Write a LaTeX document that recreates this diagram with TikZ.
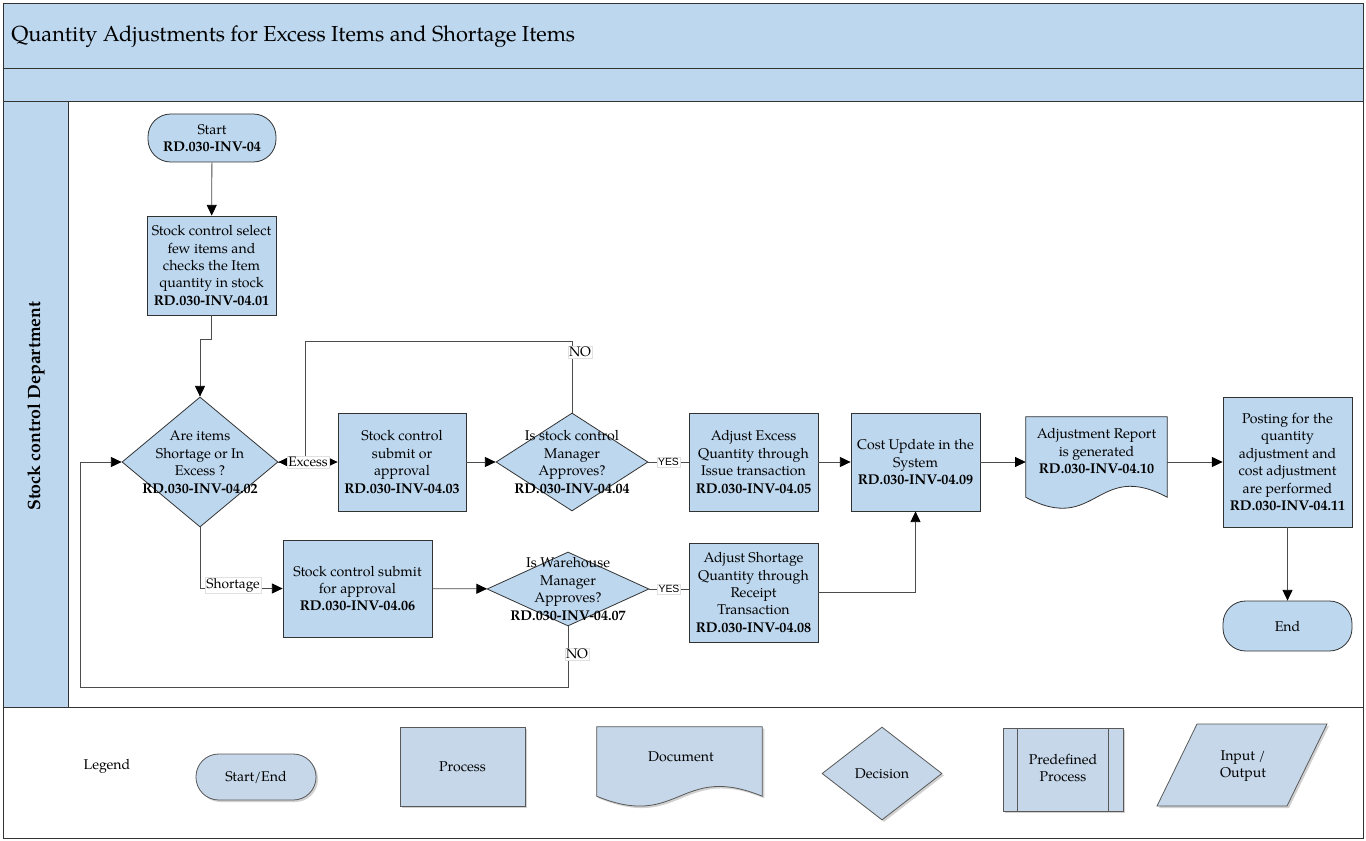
\documentclass[tikz,border=0pt]{standalone}
\usepackage{fontspec}
\setmainfont{TeX Gyre Pagella}
\newfontfamily\lblsans{Liberation Sans}
\usetikzlibrary{arrows.meta,shapes.geometric,shadows,calc}
\definecolor{hdr}{RGB}{189,215,238}
\definecolor{nodefill}{RGB}{189,215,238}
\definecolor{legfill}{RGB}{197,215,233}
\newcommand\nodefont{\fontsize{10.6}{13.1}\selectfont}
\begin{document}
\begin{tikzpicture}[x=0.75pt,y=-0.75pt,
  frame/.style={draw=black!80, line width=0.7pt},
  box/.style={draw=black!80, line width=0.6pt, fill=nodefill, inner sep=1pt, align=center, font=\nodefont},
  term/.style={box, rounded corners=17pt},
  dia/.style={draw=black!80, line width=0.6pt, fill=nodefill, diamond, inner sep=0pt},
  txt/.style={align=center, font=\nodefont, inner sep=0pt},
  ln/.style={draw=black!70, line width=0.6pt},
  arr/.style={ln, -{Triangle[length=8pt,width=7.5pt,black]}},
  lbl/.style={fill=white, draw=black!12, line width=0.3pt, inner sep=0.8pt, font=\fontsize{10.3}{11}\selectfont},
  ylbl/.style={lbl, font=\lblsans\fontsize{7.8}{9}\selectfont},
  leg/.style={draw=black!65, line width=0.6pt, fill=legfill, drop shadow={shadow xshift=1.5pt, shadow yshift=-1.5pt, fill=black!40, opacity=0.45}},
]
\useasboundingbox (0,0) rectangle (1366,841);
% ---- lanes / frames
\fill[white] (0,0) rectangle (1366,841);
\fill[hdr] (3,3) rectangle (1363,101);
\draw[frame] (3,68) -- (1363,68);
\fill[hdr] (3,101) rectangle (68,707);
\draw[frame] (3,101) rectangle (1363,707);
\draw[frame] (68,101) -- (68,707);
\draw[frame] (3,3) rectangle (1363,838);
\node[anchor=west, font=\fontsize{16.3}{18}\selectfont, inner sep=0pt] (title) at (11,37) {Quantity Adjustments for Excess Items and Shortage Items};
\node[rotate=90, font=\fontsize{13.3}{15}\selectfont\bfseries, inner sep=0pt] (lane) at (36,406) {Stock control Department};

% ---- nodes
\node[term, minimum width=96pt, minimum height=36pt] (start) at (212,138) {Start\\\textbf{RD.030-INV-04}};
\node[box, minimum width=96.75pt, minimum height=74.25pt] (box01) at (211.5,265.5) {Stock control select\\few items and\\checks the Item\\quantity in stock\\\textbf{RD.030-INV-04.01}};
\node[dia, minimum width=117pt, minimum height=97.5pt] (d02) at (200,462) {};
\node[txt] (d02t) at (d02) {Are items\\Shortage or In\\Excess ?\\\textbf{RD.030-INV-04.02}};
\node[box, minimum width=96pt, minimum height=73.5pt] (box03) at (402,462) {Stock control\\submit or\\approval\\\textbf{RD.030-INV-04.03}};
\node[dia, minimum width=114pt, minimum height=73.5pt] (d04) at (572,462) {};
\node[txt] (d04t) at (d04) {Is stock control\\Manager\\Approves?\\\textbf{RD.030-INV-04.04}};
\node[box, minimum width=96.75pt, minimum height=73.5pt] (box05) at (753.5,462) {Adjust Excess\\Quantity through\\Issue transaction\\\textbf{RD.030-INV-04.05}};
\node[box, minimum width=96.75pt, minimum height=73.5pt] (box09) at (915.5,462) {Cost Update in the\\System\\\textbf{RD.030-INV-04.09}};
\node[minimum width=105.75pt, minimum height=60pt, inner sep=0pt] (doc10) at (1096.5,457) {};
\draw[draw=black!80, line width=0.6pt, fill=nodefill] (doc10.north west) -- (doc10.north east) -- (doc10.south east)
  .. controls ($(doc10.south)+(0,-38)$) and ($(doc10.south)+(0,38)$) .. (doc10.south west) -- cycle;
\node[txt] (doc10t) at (1096.5,451) {Adjustment Report\\is generated\\\textbf{RD.030-INV-04.10}};
\node[box, minimum width=96.75pt, minimum height=97.5pt] (box11) at (1287.5,462) {Posting for the\\quantity\\adjustment and\\cost adjustment\\are performed\\\textbf{RD.030-INV-04.11}};
\node[term, minimum width=96.75pt, minimum height=37.5pt] (end) at (1287.5,626) {End};
\node[box, minimum width=111.75pt, minimum height=72.75pt] (box06) at (357.5,588.5) {Stock control submit\\for approval\\\textbf{RD.030-INV-04.06}};
\node[dia, minimum width=121.5pt, minimum height=55.5pt] (d07) at (568,589) {};
\node[txt] (d07t) at (d07) {Is Warehouse\\Manager\\Approves?\\\textbf{RD.030-INV-04.07}};
\node[box, minimum width=96.75pt, minimum height=74.25pt] (box08) at (753.5,592.5) {Adjust Shortage\\Quantity through\\Receipt\\Transaction\\\textbf{RD.030-INV-04.08}};

% ---- connectors
\draw[arr] (start) -- (box01);
\draw[arr] (box01.south) -- ++(0,24) -| (d02.north);
\draw[arr] (d02.east) -- (box03.west);
\coordinate (no1) at (305,341);
\draw[arr] (d04.north) |- (no1) -- (no1 |- d02.east) -- (d02.east);
\node[lbl] (lexc) at (308,462) {Excess};
\node[lbl] (lno1) at (580,352) {NO};
\draw[arr] (box03) -- (d04);
\draw[ln] (d04.east) -- (box05.west) node[ylbl, midway] (lyes1) {YES};
\draw[arr] (box05) -- (box09);
\draw[arr] (box09.east) -- (box09.east -| doc10.west);
\draw[arr] (doc10.east |- box11.west) -- (box11.west);
\draw[arr] (box11) -- (end);
\draw[arr] (d02.south) |- (box06.west);
\node[lbl] (lsho) at (233,585.5) {Shortage};
\draw[arr] (box06) -- (d07);
\draw[ln] (d07.east) -- (d07.east -| box08.west) node[ylbl, midway] (lyes2) {YES};
\draw[arr] (box08.east) -| (box09.south);
\coordinate (lp1) at (80,687);
\draw[arr] (d07.south) |- (lp1) |- (d02.west);
\node[lbl] (lno2) at (577,654) {NO};

% ---- legend
\node[font=\nodefont] (legend) at (107,766) {Legend};
\node[leg, rounded corners=17pt, minimum width=90pt, minimum height=34.5pt, font=\nodefont] (lse) at (256,777) {Start/End};
\node[leg, minimum width=93.75pt, minimum height=59.25pt, font=\nodefont] (lproc) at (462.5,766.5) {Process};
\node[minimum width=123.75pt, minimum height=51.75pt, inner sep=0pt] (ldoc) at (679.5,761.5) {};
\path[leg] (ldoc.north west) -- (ldoc.north east) -- (ldoc.south east)
  .. controls ($(ldoc.south)+(0,-34)$) and ($(ldoc.south)+(0,34)$) .. (ldoc.south west) -- cycle;
\node[txt] (ldoct) at (681,757) {Document};
\node[leg, diamond, minimum width=90pt, minimum height=69.75pt, inner sep=0pt] (ldec) at (882,773.5) {};
\node[txt] (ldect) at (ldec) {Decision};
\node[leg, minimum width=90pt, minimum height=62.25pt] (lpre) at (1063,769.5) {};
\draw[draw=black!65, line width=0.6pt] ($(lpre.north west)+(15,0)$) -- ($(lpre.south west)+(15,0)$);
\draw[draw=black!65, line width=0.6pt] ($(lpre.north east)+(-15,0)$) -- ($(lpre.south east)+(-15,0)$);
\node[txt] (lpret) at (1063,768) {Predefined\\Process};
\path[leg] (1197,724) -- (1327,724) -- (1287,806) -- (1157,806) -- cycle;
\node[txt] (liot) at (1243,766) {Input /\\Output};
\end{tikzpicture}
\end{document}
